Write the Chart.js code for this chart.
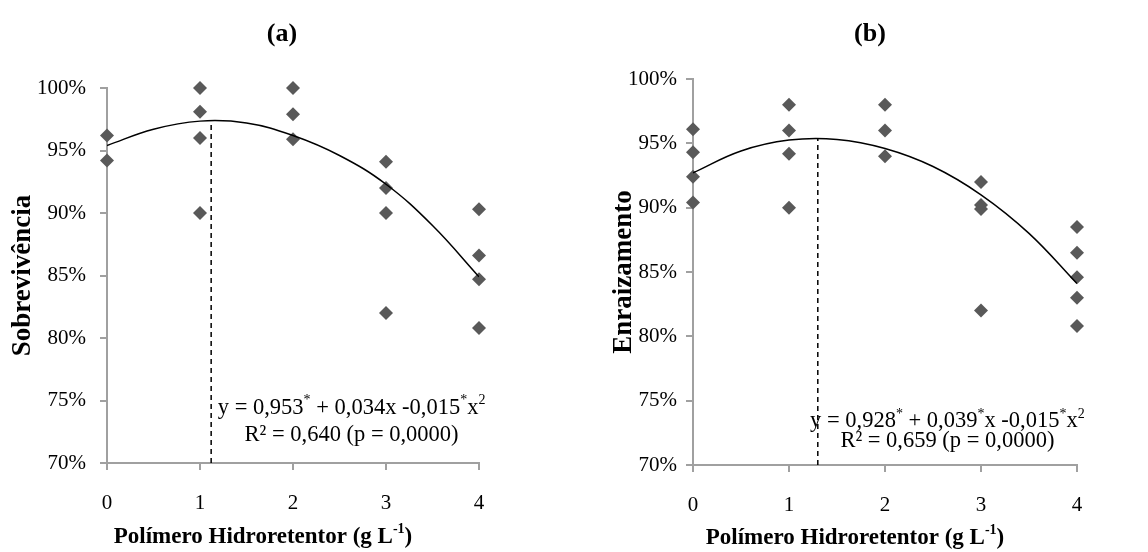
<!DOCTYPE html>
<html>
<head>
<meta charset="utf-8">
<script src="https://cdn.jsdelivr.net/npm/chart.js@4.4.1/dist/chart.umd.min.js"></script>
<style>
  body { margin: 0; background: #fff; }
  .wrap { display: flex; width: 1148px; height: 552px; }
  canvas { display: block; }
</style>
</head>
<body>
<div class="wrap">
  <canvas id="graficoA" width="574" height="552"></canvas>
  <canvas id="graficoB" width="574" height="552"></canvas>
</div>
<script>
// doses de polímero (g L-1) e repetições (%)
const doses = [0, 1, 2, 3, 4];
const sobrevivencia = [
  [96.2, 94.2],
  [100, 98.1, 96.0, 90.0],
  [100, 97.9, 95.9],
  [94.1, 92.0, 90.0, 82.0],
  [90.3, 86.6, 84.7, 80.8],
];
const enraizamento = [
  [96.1, 94.3, 92.4, 90.4],
  [98.0, 96.0, 94.2, 90.0],
  [98.0, 96.0, 94.0],
  [92.0, 90.2, 89.9, 82.0],
  [88.5, 86.5, 84.6, 83.0, 80.8],
];

// linha de tendência
const curvaX = [0, 0.5, 1, 1.5, 2, 2.5, 3, 3.5, 4];
const curvaSobrevivencia = [95.4, 96.7, 97.35, 97.2, 96.2, 94.6, 92.3, 89.0, 84.9];
const curvaEnraizamento = [92.7, 94.4, 95.25, 95.3, 94.6, 93.2, 91.0, 88.0, 84.1];

// ponto de máximo (x, y)
const verticeA = [1.12, 97.4];
const verticeB = [1.3, 95.4];

const yTicks = [70, 75, 80, 85, 90, 95, 100];

const serif = "'Times New Roman', 'Liberation Serif', serif";

function pontos(valores) {
  return doses.flatMap((d, i) => valores[i].map((v) => ({ x: d, y: v })));
}

// escreve um texto com partes sobrescritas, centrado em cx
function drawRuns(ctx, runs, cx, cy, size, bold) {
  const peso = bold ? "bold " : "";
  const base = peso + size + "px " + serif;
  const small = peso + Math.round(size * 0.6) + "px " + serif;
  let total = 0;
  const larguras = runs.map((r) => {
    ctx.font = r.sup ? small : base;
    const w = ctx.measureText(r.t).width;
    total += w;
    return w;
  });
  let x = cx - total / 2;
  ctx.textAlign = "left";
  ctx.textBaseline = "middle";
  runs.forEach((r, i) => {
    ctx.font = r.sup ? small : base;
    ctx.fillText(r.t, x, r.sup ? cy - size * 0.32 : cy);
    x += larguras[i];
  });
}

const textosPlugin = {
  id: "textos",
  afterDraw(chart, args, opts) {
    const { ctx, scales } = chart;
    ctx.save();
    ctx.fillStyle = "#000";
    drawRuns(ctx, [{ t: opts.titulo }], opts.tituloX, 34, 26, true);
    const ex = scales.x.getPixelForValue(opts.eqPos[0]);
    const ey = scales.y.getPixelForValue(opts.eqPos[1]);
    opts.equacao.forEach((linha, i) => {
      drawRuns(ctx, linha, ex, ey + i * opts.eqGap, 22.5, false);
    });
    drawRuns(
      ctx,
      [{ t: "Polímero Hidroretentor (g L" }, { t: "-1", sup: true }, { t: ")" }],
      opts.xTituloX,
      opts.xTituloY,
      23,
      true
    );
    ctx.restore();
  },
};

function montarGrafico(id, cfg) {
  const eixo = "#a0a0a0";
  return new Chart(document.getElementById(id), {
    type: "scatter",
    data: {
      datasets: [
        {
          type: "line",
          data: curvaX.map((xv, i) => ({ x: xv, y: cfg.curva[i] })),
          borderColor: "#000",
          borderWidth: 1.5,
          pointRadius: 0,
          tension: 0.4,
          fill: false,
          order: 0,
        },
        {
          type: "line",
          data: [
            { x: cfg.vertice[0], y: 70 },
            { x: cfg.vertice[0], y: cfg.vertice[1] },
          ],
          borderColor: "#000",
          borderWidth: 1.5,
          borderDash: [5, 4],
          pointRadius: 0,
          fill: false,
          order: 1,
        },
        {
          data: pontos(cfg.valores),
          pointStyle: "rectRot",
          pointRadius: 7,
          pointHoverRadius: 7,
          backgroundColor: "#595959",
          borderColor: "#595959",
          borderWidth: 0,
          clip: false,
          order: 2,
        },
      ],
    },
    options: {
      responsive: false,
      animation: false,
      layout: {
        padding: { left: 0, right: cfg.padDir, top: cfg.padTopo, bottom: 0 },
      },
      plugins: {
        legend: { display: false },
        tooltip: { enabled: false },
        textos: {
          titulo: cfg.titulo,
          tituloX: cfg.tituloX,
          equacao: cfg.equacao,
          eqPos: cfg.eqPos,
          eqGap: cfg.eqGap,
          xTituloX: cfg.xTituloX,
          xTituloY: cfg.xTituloY,
        },
      },
      scales: {
        x: {
          type: "linear",
          min: 0,
          max: 4,
          ticks: {
            stepSize: 1,
            padding: cfg.xPad,
            color: "#000",
            font: { family: serif, size: 21 },
          },
          grid: { drawOnChartArea: false, tickLength: 7, color: eixo, lineWidth: 2 },
          border: { color: eixo, width: 2 },
          afterFit: (s) => {
            s.height = cfg.xAltura;
          },
        },
        y: {
          min: 70,
          max: 100,
          afterBuildTicks: (s) => {
            s.ticks = yTicks.map((v) => ({ value: v }));
          },
          ticks: {
            padding: cfg.yPad,
            color: "#000",
            font: { family: serif, size: 21 },
            callback: (v) => v + "%",
          },
          grid: { drawOnChartArea: false, tickLength: 7, color: eixo, lineWidth: 2 },
          border: { color: eixo, width: 2 },
          title: {
            display: true,
            text: cfg.yTitulo,
            color: "#000",
            font: { family: serif, size: 27, weight: "bold" },
            padding: { top: cfg.yTitPad, bottom: 0 },
          },
          afterFit: (s) => {
            s.width = cfg.yLargura;
          },
        },
      },
    },
    plugins: [textosPlugin],
  });
}

montarGrafico("graficoA", {
  valores: sobrevivencia,
  curva: curvaSobrevivencia,
  vertice: verticeA,
  titulo: "(a)",
  tituloX: 282,
  yTitulo: "Sobrevivência",
  equacao: [
    [{ t: "y = 0,953" }, { t: "*", sup: true }, { t: " + 0,034x -0,015" }, { t: "*", sup: true }, { t: "x" }, { t: "2", sup: true }],
    [{ t: "R² = 0,640 (p = 0,0000)" }],
  ],
  eqPos: [2.63, 74.4],
  eqGap: 27,
  xTituloX: 263,
  xTituloY: 537,
  padDir: 95,
  padTopo: 88,
  xAltura: 89,
  xPad: 21,
  yPad: 14,
  yLargura: 107,
  yTitPad: 7,
});

montarGrafico("graficoB", {
  valores: enraizamento,
  curva: curvaEnraizamento,
  vertice: verticeB,
  titulo: "(b)",
  tituloX: 296,
  yTitulo: "Enraizamento",
  equacao: [
    [{ t: "y = 0,928" }, { t: "*", sup: true }, { t: " + 0,039" }, { t: "*", sup: true }, { t: "x -0,015" }, { t: "*", sup: true }, { t: "x" }, { t: "2", sup: true }],
    [{ t: "R² = 0,659 (p = 0,0000)" }],
  ],
  eqPos: [2.65, 73.4],
  eqGap: 20,
  xTituloX: 281,
  xTituloY: 538,
  padDir: 71,
  padTopo: 79,
  xAltura: 87,
  xPad: 21,
  yPad: 9,
  yLargura: 119,
  yTitPad: 34,
});
</script>
</body>
</html>
